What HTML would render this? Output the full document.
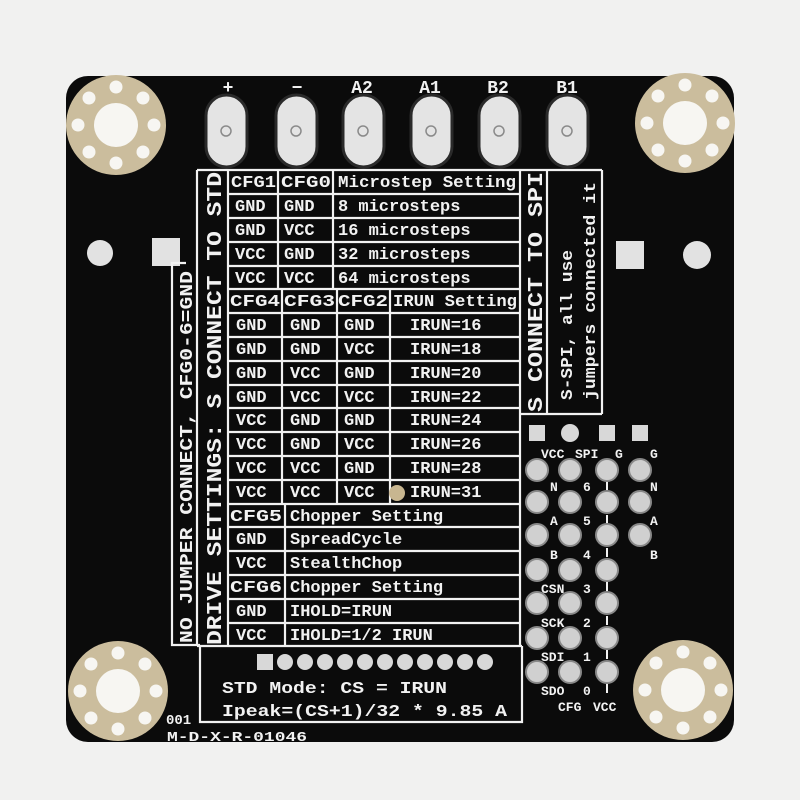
<!DOCTYPE html>
<html><head><meta charset="utf-8"><style>
html,body{margin:0;padding:0;background:#f1f1f0;}
svg{display:block}
text{font-family:"Liberation Mono","DejaVu Sans Mono",monospace;font-weight:bold;fill:#f2f2f2;}
</style></head><body>
<svg width="800" height="800" viewBox="0 0 800 800" xmlns="http://www.w3.org/2000/svg">
<rect width="800" height="800" fill="#f1f1f0"/>
<rect x="66" y="76" width="668" height="666" rx="22" fill="#0b0b0b"/>

<g>
<g transform="translate(116,125)">
<circle r="50" fill="#cbbd9d"/><circle r="22" fill="#f7f6f2"/>
<g fill="#f7f6f2"><circle cx="0" cy="-38" r="6.5"/><circle cx="27" cy="-27" r="6.5"/><circle cx="38" cy="0" r="6.5"/><circle cx="27" cy="27" r="6.5"/><circle cx="0" cy="38" r="6.5"/><circle cx="-27" cy="27" r="6.5"/><circle cx="-38" cy="0" r="6.5"/><circle cx="-27" cy="-27" r="6.5"/></g>
</g>
<g transform="translate(685,123)">
<circle r="50" fill="#cbbd9d"/><circle r="22" fill="#f7f6f2"/>
<g fill="#f7f6f2"><circle cx="0" cy="-38" r="6.5"/><circle cx="27" cy="-27" r="6.5"/><circle cx="38" cy="0" r="6.5"/><circle cx="27" cy="27" r="6.5"/><circle cx="0" cy="38" r="6.5"/><circle cx="-27" cy="27" r="6.5"/><circle cx="-38" cy="0" r="6.5"/><circle cx="-27" cy="-27" r="6.5"/></g>
</g>
<g transform="translate(118,691)">
<circle r="50" fill="#cbbd9d"/><circle r="22" fill="#f7f6f2"/>
<g fill="#f7f6f2"><circle cx="0" cy="-38" r="6.5"/><circle cx="27" cy="-27" r="6.5"/><circle cx="38" cy="0" r="6.5"/><circle cx="27" cy="27" r="6.5"/><circle cx="0" cy="38" r="6.5"/><circle cx="-27" cy="27" r="6.5"/><circle cx="-38" cy="0" r="6.5"/><circle cx="-27" cy="-27" r="6.5"/></g>
</g>
<g transform="translate(683,690)">
<circle r="50" fill="#cbbd9d"/><circle r="22" fill="#f7f6f2"/>
<g fill="#f7f6f2"><circle cx="0" cy="-38" r="6.5"/><circle cx="27" cy="-27" r="6.5"/><circle cx="38" cy="0" r="6.5"/><circle cx="27" cy="27" r="6.5"/><circle cx="0" cy="38" r="6.5"/><circle cx="-27" cy="27" r="6.5"/><circle cx="-38" cy="0" r="6.5"/><circle cx="-27" cy="-27" r="6.5"/></g>
</g>
</g>

<g fill="#e4e4e4" stroke="#2a2a2a" stroke-width="3">
<rect x="206" y="95" width="41" height="72" rx="20.5"/>
<rect x="276" y="95" width="41" height="72" rx="20.5"/>
<rect x="343" y="95" width="41" height="72" rx="20.5"/>
<rect x="411" y="95" width="41" height="72" rx="20.5"/>
<rect x="479" y="95" width="41" height="72" rx="20.5"/>
<rect x="547" y="95" width="41" height="72" rx="20.5"/>
</g>
<g fill="none" stroke="#8a8a8a" stroke-width="1.5">
<circle cx="226" cy="131" r="5"/><circle cx="296" cy="131" r="5"/><circle cx="363" cy="131" r="5"/><circle cx="431" cy="131" r="5"/><circle cx="499" cy="131" r="5"/><circle cx="567" cy="131" r="5"/>
</g>
<g font-size="18" text-anchor="middle">
<text x="228" y="93">+</text><text x="297" y="93">−</text><text x="362" y="93">A2</text><text x="430" y="93">A1</text><text x="498" y="93">B2</text><text x="567" y="93">B1</text>
</g>

<circle cx="100" cy="253" r="13" fill="#e2e2e2"/>
<rect x="152" y="238" width="28" height="28" fill="#e2e2e2"/>
<rect x="616" y="241" width="28" height="28" fill="#e2e2e2"/>
<circle cx="697" cy="255" r="14" fill="#e2e2e2"/>

<g stroke="#f2f2f2" stroke-width="2.2" fill="none">
<line x1="197" y1="170" x2="602" y2="170"/>
<line x1="197" y1="170" x2="197" y2="646"/>
<line x1="228" y1="170" x2="228" y2="646"/>
<line x1="520" y1="170" x2="520" y2="646"/>
<line x1="547" y1="170" x2="547" y2="414"/>
<line x1="602" y1="170" x2="602" y2="414"/>
<line x1="520" y1="414" x2="602" y2="414"/>
<line x1="228" y1="194" x2="520" y2="194"/>
<line x1="228" y1="218" x2="520" y2="218"/>
<line x1="228" y1="242" x2="520" y2="242"/>
<line x1="228" y1="266" x2="520" y2="266"/>
<line x1="228" y1="289" x2="520" y2="289"/>
<line x1="228" y1="313" x2="520" y2="313"/>
<line x1="228" y1="337" x2="520" y2="337"/>
<line x1="228" y1="361" x2="520" y2="361"/>
<line x1="228" y1="385" x2="520" y2="385"/>
<line x1="228" y1="408" x2="520" y2="408"/>
<line x1="228" y1="432" x2="520" y2="432"/>
<line x1="228" y1="456" x2="520" y2="456"/>
<line x1="228" y1="480" x2="520" y2="480"/>
<line x1="228" y1="504" x2="520" y2="504"/>
<line x1="228" y1="527" x2="520" y2="527"/>
<line x1="228" y1="551" x2="520" y2="551"/>
<line x1="228" y1="575" x2="520" y2="575"/>
<line x1="228" y1="599" x2="520" y2="599"/>
<line x1="228" y1="623" x2="520" y2="623"/>
<line x1="197" y1="646" x2="522" y2="646"/>
<line x1="278" y1="170" x2="278" y2="289"/>
<line x1="333" y1="170" x2="333" y2="289"/>
<line x1="282" y1="289" x2="282" y2="504"/>
<line x1="337" y1="289" x2="337" y2="504"/>
<line x1="390" y1="289" x2="390" y2="504"/>
<line x1="285" y1="504" x2="285" y2="646"/>
<polyline points="186,263 172,263 172,645 200,645"/>
<polyline points="200,646 200,722 522,722 522,646"/>
</g>

<g font-size="17">
<text x="231" y="187" textLength="45" lengthAdjust="spacingAndGlyphs">CFG1</text>
<text x="281" y="187" textLength="50" lengthAdjust="spacingAndGlyphs">CFG0</text>
<text x="338" y="187" textLength="178" lengthAdjust="spacingAndGlyphs">Microstep Setting</text>
<text x="235" y="211">GND</text><text x="284" y="211">GND</text><text x="338" y="211">8 microsteps</text>
<text x="235" y="235">GND</text><text x="284" y="235">VCC</text><text x="338" y="235">16 microsteps</text>
<text x="235" y="259">VCC</text><text x="284" y="259">GND</text><text x="338" y="259">32 microsteps</text>
<text x="235" y="283">VCC</text><text x="284" y="283">VCC</text><text x="338" y="283">64 microsteps</text>
<text x="230" y="306" textLength="50" lengthAdjust="spacingAndGlyphs">CFG4</text>
<text x="284" y="306" textLength="51" lengthAdjust="spacingAndGlyphs">CFG3</text>
<text x="338" y="306" textLength="50" lengthAdjust="spacingAndGlyphs">CFG2</text>
<text x="393" y="306" textLength="124" lengthAdjust="spacingAndGlyphs">IRUN Setting</text>
<text x="236" y="330">GND</text><text x="290" y="330">GND</text><text x="344" y="330">GND</text><text x="410" y="330">IRUN=16</text>
<text x="236" y="354">GND</text><text x="290" y="354">GND</text><text x="344" y="354">VCC</text><text x="410" y="354">IRUN=18</text>
<text x="236" y="378">GND</text><text x="290" y="378">VCC</text><text x="344" y="378">GND</text><text x="410" y="378">IRUN=20</text>
<text x="236" y="402">GND</text><text x="290" y="402">VCC</text><text x="344" y="402">VCC</text><text x="410" y="402">IRUN=22</text>
<text x="236" y="425">VCC</text><text x="290" y="425">GND</text><text x="344" y="425">GND</text><text x="410" y="425">IRUN=24</text>
<text x="236" y="449">VCC</text><text x="290" y="449">GND</text><text x="344" y="449">VCC</text><text x="410" y="449">IRUN=26</text>
<text x="236" y="473">VCC</text><text x="290" y="473">VCC</text><text x="344" y="473">GND</text><text x="410" y="473">IRUN=28</text>
<text x="236" y="497">VCC</text><text x="290" y="497">VCC</text><text x="344" y="497">VCC</text><text x="410" y="497">IRUN=31</text>
<text x="230" y="521" textLength="52" lengthAdjust="spacingAndGlyphs">CFG5</text><text x="290" y="521">Chopper Setting</text>
<text x="236" y="544">GND</text><text x="290" y="544">SpreadCycle</text>
<text x="236" y="568">VCC</text><text x="290" y="568">StealthChop</text>
<text x="230" y="592" textLength="52" lengthAdjust="spacingAndGlyphs">CFG6</text><text x="290" y="592">Chopper Setting</text>
<text x="236" y="616">GND</text><text x="290" y="616">IHOLD=IRUN</text>
<text x="236" y="640">VCC</text><text x="290" y="640">IHOLD=1/2 IRUN</text>
</g>
<circle cx="397" cy="493" r="8" fill="#c8b690"/>

<g font-size="21">
<text transform="translate(221,645) rotate(-90)" textLength="473" lengthAdjust="spacingAndGlyphs">DRIVE SETTINGS: S CONNECT TO STD</text>
<text transform="translate(192,643) rotate(-90)" font-size="18" textLength="372" lengthAdjust="spacingAndGlyphs">NO JUMPER CONNECT, CFG0-6=GND</text>
<text transform="translate(542,412) rotate(-90)" textLength="240" lengthAdjust="spacingAndGlyphs">S CONNECT TO SPI</text>
<text transform="translate(572,400) rotate(-90)" font-size="17" textLength="150" lengthAdjust="spacingAndGlyphs">S-SPI, all use</text>
<text transform="translate(595,400) rotate(-90)" font-size="17" textLength="218" lengthAdjust="spacingAndGlyphs">jumpers connected it</text>
</g>

<rect x="257" y="654" width="16" height="16" fill="#d8d8d8"/>
<g fill="#d8d8d8">
<circle cx="285" cy="662" r="8"/><circle cx="305" cy="662" r="8"/><circle cx="325" cy="662" r="8"/><circle cx="345" cy="662" r="8"/><circle cx="365" cy="662" r="8"/><circle cx="385" cy="662" r="8"/><circle cx="405" cy="662" r="8"/><circle cx="425" cy="662" r="8"/><circle cx="445" cy="662" r="8"/><circle cx="465" cy="662" r="8"/><circle cx="485" cy="662" r="8"/>
</g>
<g font-size="17">
<text x="222" y="693" textLength="225" lengthAdjust="spacingAndGlyphs">STD Mode: CS = IRUN</text>
<text x="222" y="716" textLength="285" lengthAdjust="spacingAndGlyphs">Ipeak=(CS+1)/32 * 9.85 A</text>
<text x="166" y="724" font-size="14">001</text>
<text x="167" y="741" font-size="14" textLength="140" lengthAdjust="spacingAndGlyphs">M-D-X-R-01046</text>
</g>

<g fill="#d8d8d8">
<rect x="529" y="425" width="16" height="16"/><circle cx="570" cy="433" r="9"/><rect x="599" y="425" width="16" height="16"/><rect x="632" y="425" width="16" height="16"/>
</g>
<g fill="#d0d0d0" stroke="#888" stroke-width="2">
<circle cx="537" cy="470" r="11"/><circle cx="570" cy="470" r="11"/><circle cx="607" cy="470" r="11"/><circle cx="640" cy="470" r="11"/>
<circle cx="537" cy="502" r="11"/><circle cx="570" cy="502" r="11"/><circle cx="607" cy="502" r="11"/><circle cx="640" cy="502" r="11"/>
<circle cx="537" cy="535" r="11"/><circle cx="570" cy="535" r="11"/><circle cx="607" cy="535" r="11"/><circle cx="640" cy="535" r="11"/>
<circle cx="537" cy="570" r="11"/><circle cx="570" cy="570" r="11"/><circle cx="607" cy="570" r="11"/>
<circle cx="537" cy="603" r="11"/><circle cx="570" cy="603" r="11"/><circle cx="607" cy="603" r="11"/>
<circle cx="537" cy="638" r="11"/><circle cx="570" cy="638" r="11"/><circle cx="607" cy="638" r="11"/>
<circle cx="537" cy="672" r="11"/><circle cx="570" cy="672" r="11"/><circle cx="607" cy="672" r="11"/>
</g>
<g font-size="13">
<text x="541" y="458">VCC</text><text x="575" y="458">SPI</text><text x="615" y="458">G</text><text x="650" y="458">G</text>
<text x="550" y="491">N</text><text x="583" y="491">6</text><text x="650" y="491">N</text>
<text x="550" y="525">A</text><text x="583" y="525">5</text><text x="650" y="525">A</text>
<text x="550" y="559">B</text><text x="583" y="559">4</text><text x="650" y="559">B</text>
<text x="541" y="593">CSN</text><text x="583" y="593">3</text>
<text x="541" y="627">SCK</text><text x="583" y="627">2</text>
<text x="541" y="661">SDI</text><text x="583" y="661">1</text>
<text x="541" y="695">SDO</text><text x="583" y="695">0</text>
<text x="558" y="711">CFG</text><text x="593" y="711">VCC</text>
</g>
<g stroke="#f2f2f2" stroke-width="2">
<line x1="607" y1="482" x2="607" y2="490"/><line x1="607" y1="515" x2="607" y2="523"/><line x1="607" y1="548" x2="607" y2="557"/><line x1="607" y1="582" x2="607" y2="591"/><line x1="607" y1="616" x2="607" y2="625"/><line x1="607" y1="650" x2="607" y2="659"/><line x1="607" y1="684" x2="607" y2="693"/>
</g>
</svg>
</body></html>
